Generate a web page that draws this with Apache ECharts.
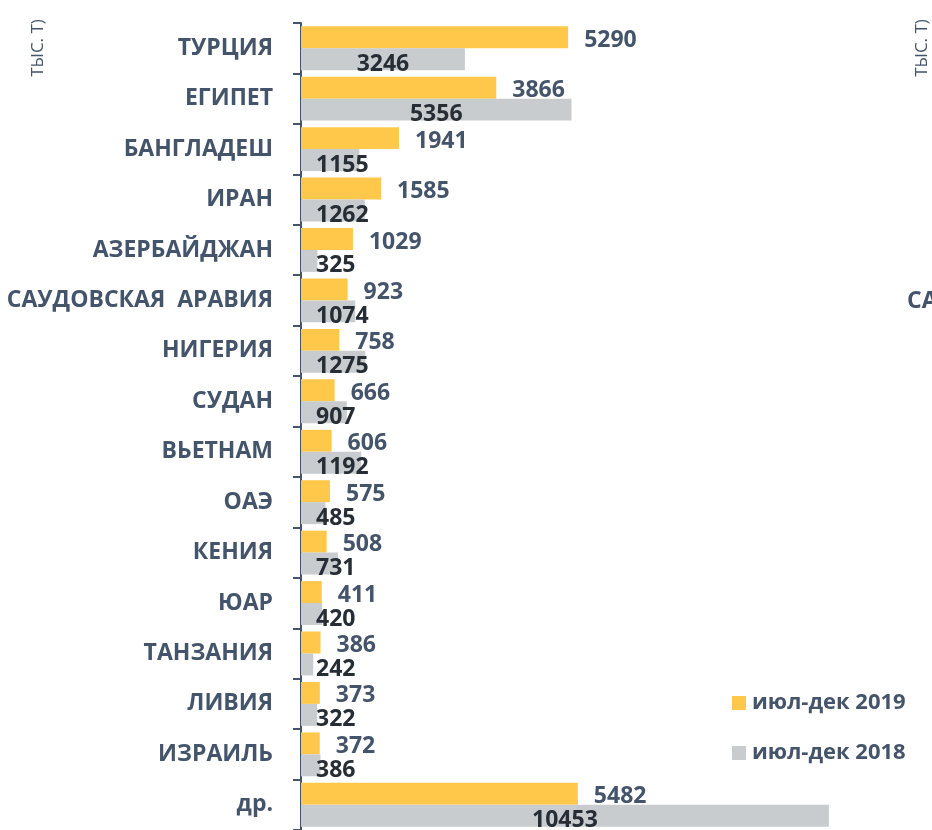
<!DOCTYPE html>
<html>
<head>
<meta charset="utf-8">
<script src="https://cdn.jsdelivr.net/npm/echarts@6/dist/echarts.min.js"></script>
<style>
  html, body { margin: 0; padding: 0; background: #fff; }
  #main { width: 932px; height: 830px; }
</style>
</head>
<body>
<div id="main"></div>
<script>
var categories = ['ТУРЦИЯ', 'ЕГИПЕТ', 'БАНГЛАДЕШ', 'ИРАН', 'АЗЕРБАЙДЖАН', 'САУДОВСКАЯ  АРАВИЯ',
  'НИГЕРИЯ', 'СУДАН', 'ВЬЕТНАМ', 'ОАЭ', 'КЕНИЯ', 'ЮАР', 'ТАНЗАНИЯ', 'ЛИВИЯ', 'ИЗРАИЛЬ', 'др.'];
var values2019 = [5290, 3866, 1941, 1585, 1029, 923, 758, 666, 606, 575, 508, 411, 386, 373, 372, 5482];
var values2018 = [3246, 5356, 1155, 1262, 325, 1074, 1275, 907, 1192, 485, 731, 420, 242, 322, 386, 10453];
var seriesNames = ['июл-дек 2019', 'июл-дек 2018'];
var unitText = 'ТЫС. Т)';

var slate = '#44546a';
var font = '"Open Sans", sans-serif';
var axisX = 301;

var myChart = echarts.init(document.getElementById('main'));

myChart.setOption({
  animation: false,
  grid: { left: axisX, top: 23, right: 25, bottom: 0, containLabel: false },
  legend: {
    orient: 'vertical',
    left: 727,
    top: 687,
    itemWidth: 14,
    itemHeight: 14,
    itemGap: 28,
    icon: 'rect',
    textStyle: { color: slate, fontSize: 22, fontWeight: 'bold', fontFamily: font, padding: [0, 0, 0, 1] },
    data: seriesNames
  },
  graphic: [
    {
      type: 'text', x: 38, y: 48, rotation: Math.PI / 2,
      style: { text: unitText, fill: slate, font: '17px ' + font, align: 'center', verticalAlign: 'middle' }
    },
    {
      type: 'text', x: 922, y: 48, rotation: Math.PI / 2,
      style: { text: unitText, fill: slate, font: '17px ' + font, align: 'center', verticalAlign: 'middle' }
    },
    {
      type: 'text', x: 907, y: 301,
      style: { text: 'СА', fill: slate, font: 'bold 23px ' + font, align: 'left', verticalAlign: 'middle' }
    }
  ],
  xAxis: {
    type: 'value',
    min: 0,
    max: 12000,
    show: false
  },
  yAxis: {
    type: 'category',
    inverse: true,
    data: categories,
    axisLine: { lineStyle: { color: slate, width: 2 } },
    axisTick: { show: true, length: 8, alignWithLabel: false, lineStyle: { color: slate, width: 2 } },
    axisLabel: { color: slate, fontSize: 23, fontWeight: 'bold', fontFamily: font, margin: 28 },
    splitLine: { show: false }
  },
  series: [
    {
      name: seriesNames[0],
      type: 'bar',
      data: values2019,
      barGap: '0%',
      barCategoryGap: '13%',
      itemStyle: { color: '#ffc84a' },
      label: {
        show: true, position: 'right', distance: 16, offset: [0, 3],
        color: slate, fontSize: 23, fontWeight: 'bold', fontFamily: font
      }
    },
    {
      name: seriesNames[1],
      type: 'bar',
      data: values2018,
      barGap: '0%',
      barCategoryGap: '13%',
      itemStyle: { color: '#c9cccf' },
      label: {
        show: true, position: 'inside',
        color: '#262d35', fontSize: 23, fontWeight: 'bold', fontFamily: font
      },
      labelLayout: function (p) {
        var cx = p.rect.x + p.rect.width / 2;
        var minCx = axisX + 15 + p.labelRect.width / 2;
        return {
          x: Math.max(cx, minCx),
          y: p.rect.y + p.rect.height / 2 + 5,
          align: 'center',
          verticalAlign: 'middle'
        };
      }
    }
  ]
});
</script>
</body>
</html>
